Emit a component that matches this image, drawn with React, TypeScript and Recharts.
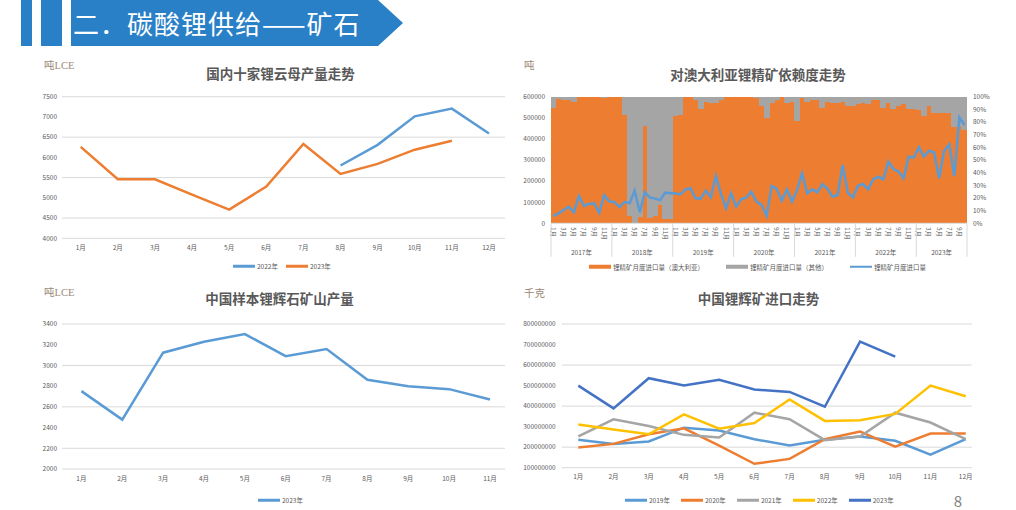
import { LineChart, Line, ComposedChart, Bar, XAxis, YAxis, CartesianGrid } from 'recharts';

const FONT = "'Noto Sans CJK SC', 'Noto Sans', sans-serif";
const SERIF = "'Liberation Serif', 'DejaVu Serif', 'Noto Sans CJK SC', serif";
const INK = '#595959';
const GRID = '#D9D9D9';

const BLUE = '#5B9BD5';
const ORANGE = '#ED7D31';
const GRAY = '#A5A5A5';
const YELLOW = '#FFC000';
const NAVY = '#4472C4';

// ─── 国内十家锂云母产量走势 (吨LCE) ─────────────────────────────────────────
const MONTHS_12 = ['1月', '2月', '3月', '4月', '5月', '6月', '7月', '8月', '9月', '10月', '11月', '12月'];
const MICA_2022 = [null, null, null, null, null, null, null, 5800, 6310, 7015, 7205, 6590];
const MICA_2023 = [6260, 5460, 5460, 5080, 4710, 5280, 6330, 5590, 5840, 6190, 6410, null];
const MICA_TICKS = [4000, 4500, 5000, 5500, 6000, 6500, 7000, 7500];

// ─── 中国样本锂辉石矿山产量 (吨LCE) ─────────────────────────────────────────
const SPOD_MONTHS = MONTHS_12.slice(0, 11);
const SPOD_2023 = [2752, 2477, 3123, 3229, 3303, 3090, 3158, 2861, 2800, 2771, 2671];
const SPOD_TICKS = [2000, 2200, 2400, 2600, 2800, 3000, 3200, 3400];

// ─── 中国锂辉矿进口走势 (千克) ──────────────────────────────────────────────
const IMP_2019 = [236e6, 215e6, 228e6, 295e6, 281e6, 239e6, 208e6, 236e6, 252e6, 231e6, 163e6, 239e6];
const IMP_2020 = [198e6, 216e6, 263e6, 292e6, 208e6, 119e6, 143e6, 239e6, 276e6, 203e6, 266e6, 266e6];
const IMP_2021 = [252e6, 336e6, 303e6, 260e6, 247e6, 368e6, 336e6, 234e6, 252e6, 368e6, 320e6, 239e6];
const IMP_2022 = [310e6, 286e6, 263e6, 360e6, 290e6, 318e6, 432e6, 328e6, 331e6, 362e6, 500e6, 448e6];
const IMP_2023 = [500e6, 389e6, 536e6, 500e6, 528e6, 481e6, 469e6, 397e6, 714e6, 641e6, null, null];
const IMP_TICKS = [1e8, 2e8, 3e8, 4e8, 5e8, 6e8, 7e8, 8e8];

// ─── 对澳大利亚锂精矿依赖度走势 ─────────────────────────────────────────────
const DEP_YEARS = ['2017年', '2018年', '2019年', '2020年', '2021年', '2022年', '2023年'];
const DEP_MONTHS_PER_YEAR = [12, 12, 12, 12, 12, 12, 10];
// share of Australia in monthly imports, %
const DEP_AU_SHARE = [
  91, 98, 97, 97, 96, 100, 100, 100, 100, 100, 99, 100,
  100, 100, 85.5, 6, 0, 5, 77, 4.5, 6, 14.5, 3.4, 3.4,
  85, 85.5, 99.5, 99.5, 97, 90, 96, 95, 95, 97, 99.5, 100,
  100, 100, 99.5, 99.5, 99, 93, 83, 95, 97, 100, 95, 96,
  81, 99, 96, 97, 97, 91, 96, 95, 95, 96, 93, 93,
  94, 95, 94, 97, 97, 91, 95, 90, 93, 94, 90, 90,
  89.5, 85, 93, 87, 87, 87, 87.5, 76, 76, 74,
];
// monthly import quantity, 吨
const DEP_QTY = [
  35000, 47000, 63000, 79000, 52000, 129000, 82000, 92000, 95000, 50000, 133000, 103000,
  101000, 76000, 101000, 95000, 155000, 52000, 147000, 122000, 117000, 110000, 145000, 142000,
  142000, 137000, 161000, 166000, 118000, 117000, 155000, 123000, 224000, 139000, 71000, 142000,
  79000, 114000, 123000, 150000, 103000, 87000, 35000, 177000, 163000, 107000, 161000, 103000,
  158000, 237000, 142000, 161000, 147000, 185000, 163000, 126000, 134000, 276000, 145000, 123000,
  178000, 186000, 161000, 208000, 221000, 208000, 292000, 257000, 245000, 213000, 316000, 311000,
  360000, 316000, 344000, 336000, 213000, 344000, 374000, 224000, 502000, 466000,
];
const DEP_QTY_TICKS = [0, 100000, 200000, 300000, 400000, 500000, 600000];
const DEP_PCT_TICKS = [0, 10, 20, 30, 40, 50, 60, 70, 80, 90, 100];

const micaData = MONTHS_12.map((m, i) => ({ m, y2022: MICA_2022[i], y2023: MICA_2023[i] }));
const spodData = SPOD_MONTHS.map((m, i) => ({ m, y2023: SPOD_2023[i] }));
const impData = MONTHS_12.map((m, i) => ({
  m, y2019: IMP_2019[i], y2020: IMP_2020[i], y2021: IMP_2021[i], y2022: IMP_2022[i], y2023: IMP_2023[i],
}));

const depRows: { key: string; yi: number; mi: number; au: number; other: number; qty: number }[] = [];
DEP_YEARS.forEach((_, yi) => {
  for (let mi = 0; mi < DEP_MONTHS_PER_YEAR[yi]; mi++) {
    const k = depRows.length;
    depRows.push({ key: `${yi}-${mi}`, yi, mi, au: DEP_AU_SHARE[k], other: 100 - DEP_AU_SHARE[k], qty: DEP_QTY[k] });
  }
});

const DEP_PLOT_W = 416;
const DEP_BW = DEP_PLOT_W / depRows.length;
const tick = { fontSize: 6.5, fill: INK, fontFamily: FONT };

// full-band step column, widened slightly so neighbours overlap (no white seams)
function stepShape(color: string) {
  return (p: any) => {
    if (!p || p.height == null) return <g />;
    const cx = p.x + p.width / 2;
    const top = Math.min(p.y, p.y + p.height);
    const h = Math.abs(p.height);
    return (
      <rect x={cx - DEP_BW / 2 - 0.4} y={top} width={DEP_BW + 0.8} height={h}
        fill={color} shapeRendering="crispEdges" />
    );
  };
}

function DepTick(props: any) {
  const { x, y } = props;
  const index = props.index ?? props.payload?.index;
  const row = depRows[index];
  if (!row) return null;
  const left = x - DEP_BW / 2;
  return (
    <g>
      {row.mi % 2 === 0 && (
        <text transform={`translate(${x},${y + 4}) rotate(90)`} fontSize={6} fill={INK}
          fontFamily={FONT} dominantBaseline="central">{`${row.mi + 1}月`}</text>
      )}
      {row.mi === 0 && (
        <>
          <line x1={left} x2={left} y1={y} y2={y + 33.5} stroke={GRID} />
          <text x={left + (DEP_MONTHS_PER_YEAR[row.yi] * DEP_BW) / 2} y={y + 28.4} fontSize={6.5} fill={INK}
            fontFamily={FONT} textAnchor="middle" dominantBaseline="central">{DEP_YEARS[row.yi]}</text>
        </>
      )}
      {index === depRows.length - 1 && (
        <line x1={x + DEP_BW / 2} x2={x + DEP_BW / 2} y1={y} y2={y + 33.5} stroke={GRID} />
      )}
    </g>
  );
}

// ─── Helpers ─────────────────────────────────────────────────────────────────

function Title({ x, y, children }: { x: number; y: number; children: React.ReactNode }) {
  return (
    <div style={{
      position: 'absolute', left: x, top: y, transform: 'translate(-50%,-50%)',
      fontSize: 13.5, fontWeight: 700, color: INK, whiteSpace: 'nowrap', lineHeight: 1,
    }}>{children}</div>
  );
}

function Unit({ x, y, children }: { x: number; y: number; children: React.ReactNode }) {
  return (
    <div style={{
      position: 'absolute', left: x, top: y, transform: 'translateY(-50%)',
      fontSize: 10.5, fontFamily: SERIF, color: '#9A8878', whiteSpace: 'nowrap', lineHeight: 1,
    }}>{children}</div>
  );
}

type LegendItem = { label: string; color: string; kind: 'line' | 'rect' };

function LegendRow({ x, y, gap, items }: { x: number; y: number; gap: number; items: LegendItem[] }) {
  return (
    <div style={{
      position: 'absolute', left: x, top: y, transform: 'translateY(-50%)',
      display: 'flex', alignItems: 'center', gap, fontSize: 6.5, color: INK, whiteSpace: 'nowrap', lineHeight: 1,
    }}>
      {items.map((it) => (
        <div key={it.label} style={{ display: 'flex', alignItems: 'center' }}>
          <span style={{
            display: 'inline-block', width: 22, height: it.kind === 'rect' ? 4.5 : 2.5,
            background: it.color, marginRight: 2,
          }} />
          {it.label}
        </div>
      ))}
    </div>
  );
}

export default function App() {
  return (
    <div style={{
      position: 'absolute', left: 0, top: 0, width: 1016, height: 510,
      background: '#fff', overflow: 'hidden', fontFamily: FONT,
    }}>
      {/* Header banner */}
      <svg width={1016} height={50} style={{ position: 'absolute', left: 0, top: 0 }}>
        <rect x={21} y={0} width={11} height={46} fill="#2980C7" />
        <rect x={41} y={0} width={21} height={46} fill="#2980C7" />
        <polygon points="71,0 378,0 403,23 378,46 71,46" fill="#2980C7" />
        <text x={73} y={22} fontSize={26} letterSpacing={1} fill="#fff" fontFamily={FONT} dominantBaseline="central">
          二．碳酸锂供给——矿石
        </text>
      </svg>

      {/* 国内十家锂云母产量走势 */}
      <Unit x={44} y={66}>吨LCE</Unit>
      <Title x={280.5} y={74}>国内十家锂云母产量走势</Title>
      <div style={{ position: 'absolute', left: 30, top: 55 }}>
        <LineChart width={490} height={220} data={micaData} margin={{ top: 41.7, right: 15, bottom: 16.7, left: 0 }}>
          <CartesianGrid vertical={false} stroke={GRID} />
          <XAxis dataKey="m" interval={0} tick={tick} tickLine={false} axisLine={false}
            tickSize={5} tickMargin={2} height={20} padding={{ left: 18.7, right: 16 }} />
          <YAxis domain={[4000, 7500]} ticks={MICA_TICKS} tick={tick} tickLine={false} axisLine={false}
            tickSize={3} tickMargin={2} width={32} />
          <Line dataKey="y2022" stroke={BLUE} strokeWidth={2.5} dot={false} isAnimationActive={false} />
          <Line dataKey="y2023" stroke={ORANGE} strokeWidth={2.5} dot={false} isAnimationActive={false} />
        </LineChart>
      </div>
      <LegendRow x={233} y={266} gap={8} items={[
        { label: '2022年', color: BLUE, kind: 'line' },
        { label: '2023年', color: ORANGE, kind: 'line' },
      ]} />

      {/* 对澳大利亚锂精矿依赖度走势 */}
      <Unit x={524} y={66}>吨</Unit>
      <Title x={758} y={75}>对澳大利亚锂精矿依赖度走势</Title>
      <div style={{ position: 'absolute', left: 515, top: 55 }}>
        <ComposedChart width={480} height={220} data={depRows} barCategoryGap={0} barGap={0}
          margin={{ top: 41.7, right: 0, bottom: 15.7, left: 0 }}>
          <XAxis dataKey="key" interval={0} tick={<DepTick />} tickLine={false}
            axisLine={{ stroke: GRID }} tickSize={0} tickMargin={0} height={36} />
          <YAxis yAxisId="qty" domain={[0, 600000]} ticks={DEP_QTY_TICKS} tick={tick} tickLine={false}
            axisLine={false} tickSize={3} tickMargin={3} width={36} />
          <YAxis yAxisId="pct" orientation="right" domain={[0, 100]} ticks={DEP_PCT_TICKS}
            tickFormatter={(v: number) => `${v}%`} tick={tick} tickLine={false} axisLine={false}
            tickSize={3} tickMargin={3} width={28} />
          <Bar yAxisId="pct" dataKey="au" stackId="s" fill={ORANGE} shape={stepShape(ORANGE)}
            isAnimationActive={false} />
          <Bar yAxisId="pct" dataKey="other" stackId="s" fill={GRAY} shape={stepShape(GRAY)}
            isAnimationActive={false} />
          <Line yAxisId="qty" dataKey="qty" stroke={BLUE} strokeWidth={2.5} dot={false}
            isAnimationActive={false} />
        </ComposedChart>
      </div>
      <LegendRow x={589} y={266.7} gap={22} items={[
        { label: '锂精矿月度进口量（澳大利亚）', color: ORANGE, kind: 'rect' },
        { label: '锂精矿月度进口量（其他）', color: GRAY, kind: 'rect' },
        { label: '锂精矿月度进口量', color: BLUE, kind: 'line' },
      ]} />

      {/* 中国样本锂辉石矿山产量 */}
      <Unit x={44} y={293}>吨LCE</Unit>
      <Title x={279.5} y={299}>中国样本锂辉石矿山产量</Title>
      <div style={{ position: 'absolute', left: 30, top: 280 }}>
        <LineChart width={490} height={230} data={spodData} margin={{ top: 44, right: 15, bottom: 21, left: 0 }}>
          <CartesianGrid vertical={false} stroke={GRID} />
          <XAxis dataKey="m" interval={0} tick={tick} tickLine={false} axisLine={false}
            tickSize={5} tickMargin={2} height={20} padding={{ left: 19.4, right: 15 }} />
          <YAxis domain={[2000, 3400]} ticks={SPOD_TICKS} tick={tick} tickLine={false} axisLine={false}
            tickSize={3} tickMargin={2} width={32} />
          <Line dataKey="y2023" stroke={BLUE} strokeWidth={2.5} dot={false} isAnimationActive={false} />
        </LineChart>
      </div>
      <LegendRow x={258} y={500} gap={8} items={[{ label: '2023年', color: BLUE, kind: 'line' }]} />

      {/* 中国锂辉矿进口走势 */}
      <Unit x={524} y={294}>千克</Unit>
      <Title x={758.5} y={299}>中国锂辉矿进口走势</Title>
      <div style={{ position: 'absolute', left: 515, top: 280 }}>
        <LineChart width={470} height={230} data={impData} margin={{ top: 44, right: 13.3, bottom: 22.3, left: 0 }}>
          <CartesianGrid vertical={false} stroke={GRID} />
          <XAxis dataKey="m" interval={0} tick={tick} tickLine={false} axisLine={false}
            tickSize={5} tickMargin={2} height={20} padding={{ left: 16.6, right: 6 }} />
          <YAxis domain={[1e8, 8e8]} ticks={IMP_TICKS} tick={tick} tickLine={false} axisLine={false}
            tickSize={4} tickMargin={2} width={46.7} />
          <Line dataKey="y2019" stroke={BLUE} strokeWidth={2.5} dot={false} isAnimationActive={false} />
          <Line dataKey="y2020" stroke={ORANGE} strokeWidth={2.5} dot={false} isAnimationActive={false} />
          <Line dataKey="y2021" stroke={GRAY} strokeWidth={2.5} dot={false} isAnimationActive={false} />
          <Line dataKey="y2022" stroke={YELLOW} strokeWidth={2.5} dot={false} isAnimationActive={false} />
          <Line dataKey="y2023" stroke={NAVY} strokeWidth={2.5} dot={false} isAnimationActive={false} />
        </LineChart>
      </div>
      <LegendRow x={625} y={500} gap={11} items={[
        { label: '2019年', color: BLUE, kind: 'line' },
        { label: '2020年', color: ORANGE, kind: 'line' },
        { label: '2021年', color: GRAY, kind: 'line' },
        { label: '2022年', color: YELLOW, kind: 'line' },
        { label: '2023年', color: NAVY, kind: 'line' },
      ]} />

      <div style={{
        position: 'absolute', left: 951, top: 492, width: 14, height: 18,
        fontSize: 15, color: '#7F7F7F', lineHeight: '18px', textAlign: 'center',
      }}>8</div>
    </div>
  );
}
